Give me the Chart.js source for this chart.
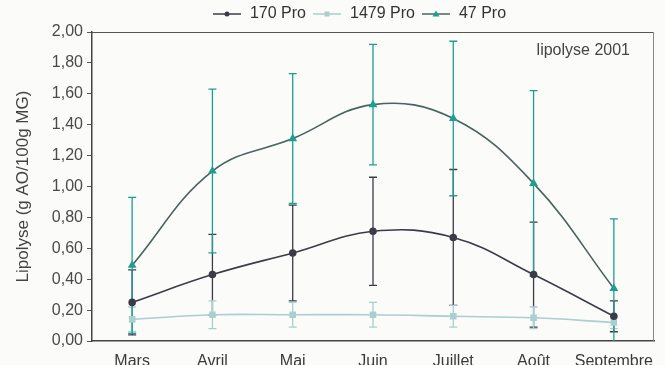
<!DOCTYPE html>
<html>
<head>
<meta charset="utf-8">
<script src="https://cdn.jsdelivr.net/npm/chart.js@4.4.1/dist/chart.umd.min.js"></script>
<style>
    html, body { margin: 0; padding: 0; background: #fbfbf9; }
    #wrap { width: 665px; height: 365px; }
</style>
</head>
<body>
<div id="wrap"><canvas id="lipo"></canvas></div>
<script>
// Data
var months = ['Mars', 'Avril', 'Mai', 'Juin', 'Juillet', 'Août', 'Septembre'];
var pro170 = [0.25, 0.43, 0.57, 0.71, 0.67, 0.43, 0.16];
var pro170Err = [0.21, 0.26, 0.31, 0.35, 0.44, 0.34, 0.10];
var pro1479 = [0.14, 0.17, 0.17, 0.17, 0.16, 0.15, 0.12];
var pro1479Err = [0.08, 0.09, 0.08, 0.08, 0.07, 0.07, 0.04];
var pro47 = [0.49, 1.10, 1.31, 1.53, 1.44, 1.02, 0.34];
var pro47Err = [0.44, 0.53, 0.42, 0.39, 0.50, 0.60, 0.45];
var yTicks = [0, 0.2, 0.4, 0.6, 0.8, 1.0, 1.2, 1.4, 1.6, 1.8, 2.0];

var errors = [pro170Err, pro1479Err, pro47Err];
var errColors = ['#3c3c48', '#a9cfcf', '#1f9e90'];
var FONT = '"Liberation Sans", Arial, sans-serif';

// small canvas used as legend symbol: line + marker
function legendIcon(lineColor, markColor, shape) {
    var c = document.createElement('canvas');
    c.width = 30; c.height = 10;
    var g = c.getContext('2d');
    g.strokeStyle = lineColor;
    g.lineWidth = 1.5;
    g.beginPath(); g.moveTo(1, 5); g.lineTo(29, 5); g.stroke();
    g.fillStyle = markColor;
    g.beginPath();
    if (shape === 'circle') {
        g.arc(15, 5, 2.5, 0, Math.PI * 2);
    } else if (shape === 'rect') {
        g.rect(12.5, 2.5, 5, 5);
    } else {
        g.moveTo(15, 1.5); g.lineTo(18.5, 7.5); g.lineTo(11.5, 7.5); g.closePath();
    }
    g.fill();
    return c;
}

var icons = [
    legendIcon('#3c3c48', '#3c3c48', 'circle'),
    legendIcon('#a9cfcf', '#a9cfcf', 'rect'),
    legendIcon('#4a6262', '#1f9e90', 'triangle')
];

// error bars, frame, note
var errorBarPlugin = {
    id: 'errorBars',
    beforeDraw: function(chart) {
        // move the legend a bit to the right, like the original
        var lg = chart.legend;
        if (lg && !lg._shifted) {
            lg.left += 32;
            lg.right += 32;
            lg._shifted = true;
        }
    },
    beforeDatasetsDraw: function(chart) {
        var ctx = chart.ctx;
        var x = chart.scales.x, y = chart.scales.y;
        var area = chart.chartArea;
        ctx.save();
        ctx.beginPath();
        ctx.rect(area.left, area.top - 2, area.right - area.left, area.bottom - area.top + 2);
        ctx.clip();
        chart.data.datasets.forEach(function(ds, i) {
            ctx.strokeStyle = errColors[i];
            ctx.lineWidth = 1.3;
            ds.data.forEach(function(v, j) {
                var px = x.getPixelForValue(j);
                var hi = y.getPixelForValue(v + errors[i][j]);
                var lo = y.getPixelForValue(v - errors[i][j]);
                ctx.beginPath();
                ctx.moveTo(px, hi); ctx.lineTo(px, lo);
                ctx.moveTo(px - 4, hi); ctx.lineTo(px + 4, hi);
                ctx.moveTo(px - 4, lo); ctx.lineTo(px + 4, lo);
                ctx.stroke();
            });
        });
        ctx.restore();
    },
    afterDraw: function(chart) {
        var ctx = chart.ctx;
        var a = chart.chartArea;
        ctx.save();
        ctx.strokeStyle = '#555';
        ctx.lineWidth = 1.2;
        ctx.beginPath();
        ctx.moveTo(a.left, a.top + 0.5); ctx.lineTo(a.right, a.top + 0.5);
        ctx.stroke();
        ctx.strokeStyle = '#888';
        ctx.lineWidth = 1;
        ctx.beginPath();
        ctx.moveTo(a.right - 0.5, a.top); ctx.lineTo(a.right - 0.5, a.bottom);
        ctx.stroke();
        ctx.fillStyle = '#444';
        ctx.font = '16px ' + FONT;
        ctx.textAlign = 'right';
        ctx.textBaseline = 'middle';
        ctx.fillText('lipolyse 2001', a.right - 24, a.top + 19);
        ctx.restore();
    }
};

new Chart(document.getElementById('lipo'), {
    type: 'line',
    data: {
        labels: months,
        datasets: [{
            label: '170 Pro',
            data: pro170,
            borderColor: '#3c3c48',
            backgroundColor: '#3c3c48',
            pointStyle: 'circle',
            pointRadius: 3,
            borderWidth: 1.6,
            tension: 0.4
        }, {
            label: '1479 Pro',
            data: pro1479,
            borderColor: '#a9cfcf',
            backgroundColor: '#a9cfcf',
            pointStyle: 'rect',
            pointRadius: 3.5,
            borderWidth: 1.6,
            tension: 0.4
        }, {
            label: '47 Pro',
            data: pro47,
            borderColor: '#4a6262',
            backgroundColor: '#1f9e90',
            pointBorderColor: '#1f9e90',
            pointStyle: 'triangle',
            pointRadius: 3.5,
            borderWidth: 1.6,
            tension: 0.4
        }]
    },
    options: {
        responsive: true,
        maintainAspectRatio: false,
        animation: false,
        layout: {
            padding: { right: 11, left: 0, top: 0, bottom: 0 }
        },
        plugins: {
            legend: {
                position: 'top',
                labels: {
                    usePointStyle: true,
                    pointStyleWidth: 30,
                    padding: 6,
                    color: '#333',
                    font: { size: 16, family: FONT },
                    generateLabels: function(chart) {
                        return chart.data.datasets.map(function(ds, i) {
                            return {
                                text: ds.label,
                                pointStyle: icons[i],
                                fillStyle: ds.borderColor,
                                strokeStyle: ds.borderColor,
                                lineWidth: 0,
                                fontColor: '#333',
                                datasetIndex: i
                            };
                        });
                    }
                }
            },
            tooltip: { enabled: false }
        },
        scales: {
            x: {
                offset: true,
                grid: { display: false, drawTicks: false },
                border: { color: '#444', width: 1.5 },
                ticks: {
                    color: '#3a3a3a',
                    padding: 11,
                    autoSkip: false,
                    maxRotation: 0,
                    minRotation: 0,
                    font: { size: 16, family: FONT }
                },
                afterFit: function(scale) { scale.height = 24; }
            },
            y: {
                min: 0,
                max: 2,
                afterBuildTicks: function(scale) {
                    scale.ticks = yTicks.map(function(v) { return { value: v }; });
                },
                grid: {
                    display: true,
                    drawOnChartArea: false,
                    drawTicks: true,
                    tickLength: 5,
                    color: '#555'
                },
                border: { color: '#444', width: 1.5 },
                ticks: {
                    color: '#4a4a4a',
                    padding: 4,
                    font: { size: 16, family: FONT },
                    callback: function(v) { return v.toFixed(2).replace('.', ','); }
                },
                title: {
                    display: true,
                    text: 'Lipolyse (g AO/100g MG)',
                    color: '#444',
                    padding: { top: 13, bottom: 3 },
                    font: { size: 17, family: FONT }
                },
                afterFit: function(scale) { scale.width = 92; }
            }
        }
    },
    plugins: [errorBarPlugin]
});
</script>
</body>
</html>
